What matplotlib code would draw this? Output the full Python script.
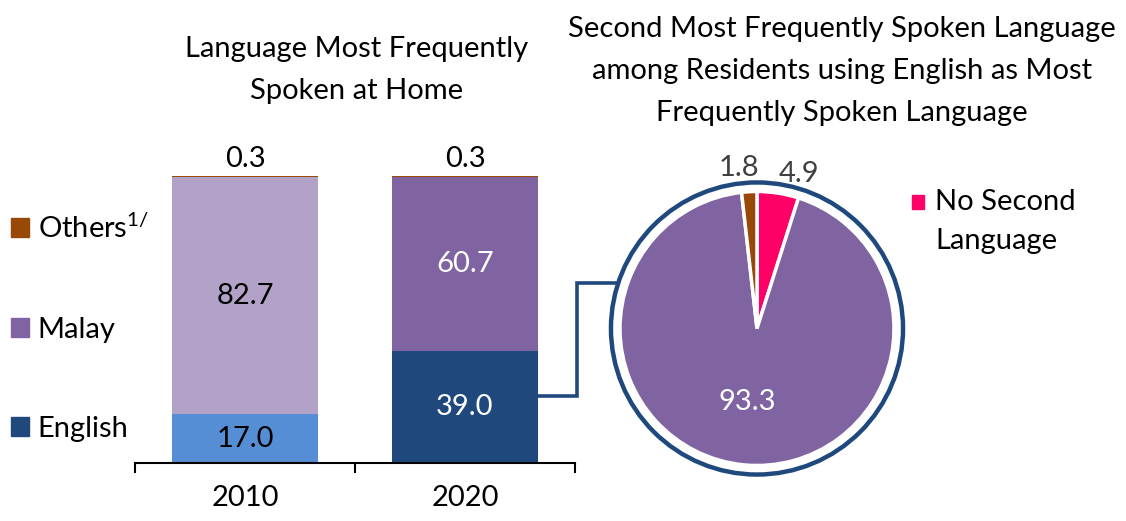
import matplotlib
matplotlib.use("Agg")
import matplotlib.pyplot as plt
from matplotlib.patches import Patch, Rectangle, Circle
from matplotlib.lines import Line2D
import numpy as np

plt.rcParams['font.family'] = ['Lato', 'DejaVu Sans']
plt.rcParams['mathtext.fontset'] = 'custom'
plt.rcParams['mathtext.rm'] = 'Lato'
plt.rcParams['mathtext.it'] = 'Lato:italic'

# ---- data ----
years = ["2010", "2020"]
english = [17.0, 39.0]
malay = [82.7, 60.7]
others = [0.3, 0.3]
legend_labels = ["Others$^{\\mathregular{1/}}$", "Malay", "English"]

pie_labels = ["No Second Language", "Malay", "Others"]
pie_values = [4.9, 93.3, 1.8]

title_left = "Language Most Frequently\nSpoken at Home"
title_right = ("Second Most Frequently Spoken Language\n"
               "among Residents using English as Most\n"
               "Frequently Spoken Language")

# ---- style ----
W, H = 1126, 521
FS = 21
eng_cols = ["#558ED5", "#1F497D"]
mal_cols = ["#B3A2C7", "#8064A2"]
oth_col = "#984807"
pie_cols = ["#FF0066", "#8064A2", "#984807"]
ring_col = "#1F497D"

fig = plt.figure(figsize=(W / 100, H / 100), dpi=100)

def fx(px):
    return px / W

def fy(py):
    return 1 - py / H

# ---- bar chart ----
ax = fig.add_axes([fx(135), fy(463), fx(575) - fx(135), fy(176) - fy(463)])
x = np.arange(len(years))
bw = 0.66
ax.bar(x, english, bw, color=eng_cols)
ax.bar(x, malay, bw, bottom=english, color=mal_cols)
ax.bar(x, others, bw, bottom=np.add(english, malay), color=oth_col)
ax.set_xlim(-0.5, 1.5)
ax.set_ylim(0, 100)

txt_cols = ["black", "white"]
for i in range(len(years)):
    ax.text(x[i], english[i] / 2, f"{english[i]:.1f}", ha="center", va="center",
            fontsize=FS, color=txt_cols[i])
    ax.text(x[i], english[i] + malay[i] / 2, f"{malay[i]:.1f}", ha="center",
            va="center", fontsize=FS, color=txt_cols[i])
    ax.annotate(f"{others[i]:.1f}", (x[i], english[i] + malay[i] + others[i]),
                xytext=(0, 3), textcoords="offset points", ha="center",
                va="bottom", fontsize=FS, color="black", annotation_clip=False)

for s in ["top", "right", "left"]:
    ax.spines[s].set_visible(False)
ax.spines["bottom"].set_linewidth(1.5)
ax.spines["bottom"].set_color("black")
ax.set_yticks([])
ax.set_xticks([-0.5, 0.5, 1.5])
ax.set_xticklabels([])
ax.tick_params(axis="x", which="major", direction="out", length=7.5, width=1.5)
ax.set_xticks(x, minor=True)
ax.set_xticklabels(years, minor=True, fontsize=FS)
ax.tick_params(axis="x", which="minor", length=0, pad=16)

handles = [Patch(color=oth_col), Patch(color=mal_cols[1]), Patch(color=eng_cols[1])]
fig.legend(handles, legend_labels, loc="upper left",
           bbox_to_anchor=(fx(11), fy(214)), frameon=False, fontsize=FS,
           handlelength=0.62, handleheight=0.62, handletextpad=0.3,
           labelspacing=2.52, borderaxespad=0, borderpad=0)

# ---- pie chart ----
R = 137.0
half = 1.25
pax = fig.add_axes([fx(757 - half * R), fy(328.5 + half * R),
                    fx(2 * half * R), fy(0) - fy(2 * half * R)])
pax.pie(pie_values, colors=pie_cols, startangle=90, counterclock=False,
        radius=1.0, wedgeprops=dict(edgecolor="white", linewidth=2.5))
pax.add_patch(Circle((0, 0), 1.066, fill=False, edgecolor=ring_col, lw=3.2))
pax.set_xlim(-half, half)
pax.set_ylim(-half, half)
pax.set_aspect("equal")
pax.axis("off")

lab_pos = [(0.31, 1.13), (-0.07, -0.54), (-0.13, 1.17)]
lab_col = ["#404040", "white", "#404040"]
for v, (px_, py_), c in zip(pie_values, lab_pos, lab_col):
    pax.text(px_, py_, f"{v:.1f}", ha="center", va="center", fontsize=FS,
             color=c, clip_on=False)

# pie legend
fig.patches.append(Rectangle((fx(912), fy(209)), fx(12), fy(195) - fy(209),
                             transform=fig.transFigure, color=pie_cols[0]))
fig.text(fx(935), fy(202), "No Second", ha="left", va="center", fontsize=FS)
fig.text(fx(935), fy(241), "Language", ha="left", va="center", fontsize=FS)

# connector
cx = [fx(538), fx(577), fx(577), fx(757 - np.sqrt(146**2 - 45.5**2))]
cy = [fy(396), fy(396), fy(283), fy(283)]
fig.add_artist(Line2D(cx, cy, transform=fig.transFigure, color=ring_col,
                      lw=2.6, solid_joinstyle="miter"))

# titles
fig.text(fx(357), fy(70), title_left, ha="center", va="center", fontsize=FS,
         linespacing=1.77)
fig.text(fx(842), fy(71), title_right, ha="center", va="center", fontsize=FS,
         linespacing=1.77)

fig.savefig("out.png", dpi=100)
